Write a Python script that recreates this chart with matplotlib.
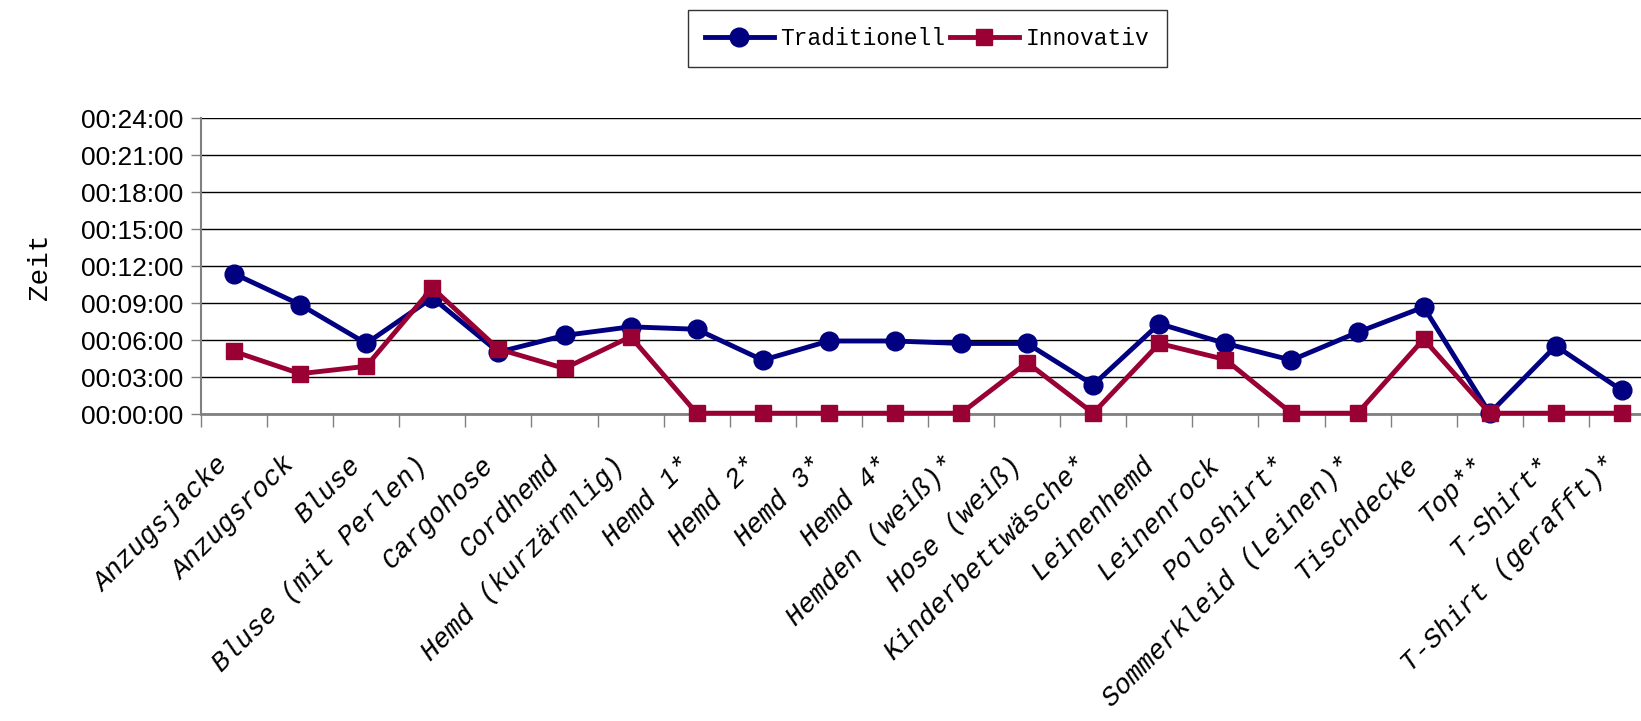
import matplotlib
matplotlib.use("Agg")
import matplotlib.pyplot as plt
from matplotlib.ticker import FixedLocator, FuncFormatter
import numpy as np

# Kategorien (Kleidungsstücke)
categories = [
    "Anzugsjacke", "Anzugsrock", "Bluse", "Bluse (mit Perlen)", "Cargohose",
    "Cordhemd", "Hemd (kurzärmlig)", "Hemd 1*", "Hemd 2*", "Hemd 3*",
    "Hemd 4*", "Hemden (weiß)*", "Hose (weiß)", "Kinderbettwäsche*",
    "Leinenhemd", "Leinenrock", "Poloshirt*", "Sommerkleid (Leinen)*",
    "Tischdecke", "Top**", "T-Shirt*", "T-Shirt (gerafft)*",
]

# Zeit in Minuten
traditionell = [11.4, 8.9, 5.75, 9.45, 5.05, 6.4, 7.1, 6.9, 4.4, 5.95,
                5.95, 5.75, 5.75, 2.4, 7.35, 5.75, 4.4, 6.65, 8.7, 0.1,
                5.55, 1.95]
innovativ = [5.1, 3.3, 3.9, 10.25, 5.3, 3.73, 6.3, 0.1, 0.1, 0.1,
             0.1, 0.1, 4.2, 0.1, 5.75, 4.45, 0.1, 0.1, 6.1, 0.1,
             0.1, 0.1]

y_ticks = [0, 3, 6, 9, 12, 15, 18, 21, 24]

NAVY = "#000080"
CRIMSON = "#990033"
MONO = "Liberation Mono"
SANS = "Liberation Sans"

fig = plt.figure(figsize=(16.41, 7.21), dpi=100)
ax = fig.add_axes([0.1225, 0.4252, 0.886, 0.4108])

x = np.arange(len(categories))
l1, = ax.plot(x, traditionell, color=NAVY, lw=3.5, marker="o", ms=13.5,
              clip_on=False, zorder=3, label="Traditionell")
l2, = ax.plot(x, innovativ, color=CRIMSON, lw=3.5, marker="s", ms=11,
              clip_on=False, zorder=4, label="Innovativ")

ax.set_xlim(-0.5, len(categories) - 0.5)
ax.set_ylim(0, 24)

# y-Achse im Zeitformat
ax.yaxis.set_major_locator(FixedLocator(y_ticks))
ax.yaxis.set_major_formatter(FuncFormatter(lambda v, p: "00:%02d:00" % int(round(v))))
ax.tick_params(axis="y", direction="out", length=7, width=1, color="#808080",
               labelsize=19, pad=6)
for lab in ax.get_yticklabels():
    lab.set_fontfamily(SANS)

ax.yaxis.grid(True, color="black", lw=1)
ax.set_axisbelow(True)

# x-Achse: Beschriftungen mittig, Teilstriche an den Grenzen
ax.set_xticks(x)
ax.set_xticklabels(categories, rotation=45, ha="right", va="top",
                   fontfamily=MONO, fontstyle="italic", fontsize=19.5)
ax.tick_params(axis="x", which="major", length=0, pad=27)
ax.set_xticks(np.arange(len(categories) + 1) - 0.5, minor=True)
ax.tick_params(axis="x", which="minor", direction="out", length=9,
               width=1, color="#808080")

for side in ["right", "top"]:
    ax.spines[side].set_visible(False)
ax.spines["left"].set_color("#808080")
ax.spines["left"].set_linewidth(1.5)
ax.spines["bottom"].set_color("#808080")
ax.spines["bottom"].set_linewidth(2)

ax.set_ylabel("Zeit", fontfamily=MONO, fontsize=20, labelpad=20)

fig.legend(handles=[l1, l2], loc="center", bbox_to_anchor=(0.565, 0.947),
           ncol=2, frameon=True, fancybox=False, edgecolor="black",
           prop={"family": MONO, "size": 16.5}, handlelength=3,
           columnspacing=0.2, handletextpad=0.3, borderpad=0.75)

fig.savefig("out.png", dpi=100)
